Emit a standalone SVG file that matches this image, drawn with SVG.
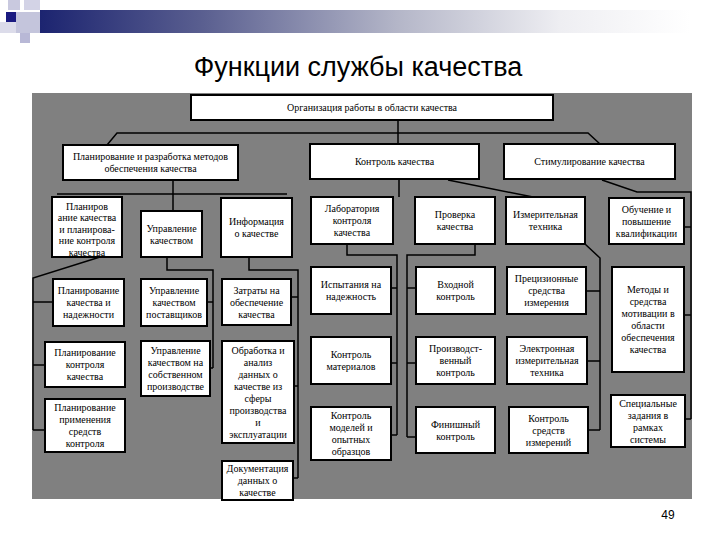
<svg xmlns="http://www.w3.org/2000/svg" width="720" height="540" viewBox="0 0 720 540">
<defs>
<linearGradient id="bar" x1="0" y1="0" x2="1" y2="0">
<stop offset="0" stop-color="#1c2470"/>
<stop offset="0.25" stop-color="#5a5f90"/>
<stop offset="0.55" stop-color="#b4b6c8"/>
<stop offset="0.8" stop-color="#eeeef2"/>
<stop offset="1" stop-color="#ffffff"/>
</linearGradient>
<style>
.box{fill:#ffffff;stroke:#000000;stroke-width:2}
.t{font-family:"Liberation Serif","Times New Roman",serif;font-size:10px;fill:#000000;text-anchor:middle}
.c{fill:none;stroke:#000000;stroke-width:1.5}
</style>
</defs>
<rect x="0" y="0" width="720" height="540" fill="#ffffff"/>
<g id="decor">
<rect x="40" y="10" width="650" height="23" fill="url(#bar)"/>
<rect x="8" y="0" width="12" height="10" fill="#c9c9df"/>
<rect x="24" y="0" width="16" height="10" fill="#d3d3e6"/>
<rect x="16" y="12" width="24" height="21" fill="#c4c5dc"/>
<rect x="6" y="12" width="10" height="10" fill="#1a1a80"/>
<rect x="0" y="22" width="16" height="11" fill="#dcdcea"/>
<rect x="20" y="33" width="10" height="10" fill="#b8b8d6"/>
</g>
<text x="358" y="76" font-family="Liberation Sans, Arial, sans-serif" font-size="27" text-anchor="middle" fill="#000000">Функции службы качества</text>
<rect x="32" y="93" width="660" height="406" fill="#808080"/>
<g id="connectors">
<path class="c" d="M398 120V144"/>
<path class="c" d="M107 145L117 133H588L600 144"/>
<path class="c" d="M173 180V211"/>
<path class="c" d="M57 194H287"/>
<path class="c" stroke-width="2.5" d="M399 179V197"/>
<path class="c" d="M448 180L533 197"/>
<path class="c" d="M602 180L637 192H691V419M684 227H691M684 315H691M685 419H691"/>
<path class="c" d="M100 257L33 278V430M33 302H53M33 365H45M33 430H45"/>
<path class="c" d="M167 257V270H213V368M207 302H213M210 368H213"/>
<path class="c" d="M249 257V270H298V478M291 297H298M294 386H298M293 478H298"/>
<path class="c" d="M347 244V255H397V435M391 288H397M391 363H397M391 435H397"/>
<path class="c" d="M475 244V255H407V437M407 288H416M407 363H416M407 437H416"/>
<path class="c" d="M585 244L600 258V430M586 291H600M587 361H600M588 430H600"/>
</g>
<g id="n-top"><rect class="box" x="191" y="95" width="362" height="25"/><text class="t" x="372" y="111">Организация работы в области качества</text></g>
<g id="n-plan"><rect class="box" x="63" y="145" width="175" height="35"/><text class="t" x="150.5" y="160"><tspan x="150.5">Планирование и разработка методов</tspan><tspan x="150.5" dy="12">обеспечения качества</tspan></text></g>
<g id="n-control"><rect class="box" x="310" y="144" width="169" height="35"/><text class="t" x="394.5" y="165">Контроль качества</text></g>
<g id="n-stim"><rect class="box" x="504" y="144" width="171" height="35"/><text class="t" x="589.5" y="165">Стимулирование качества</text></g>
<g id="n-a"><rect class="box" x="52" y="197" width="70" height="60"/><text class="t" x="87" y="209.5"><tspan x="87">Планиров</tspan><tspan x="87" dy="11.5">ание качества</tspan><tspan x="87" dy="11.5">и планирова-</tspan><tspan x="87" dy="11.5">ние контроля</tspan><tspan x="87" dy="11.5">качества</tspan></text></g>
<g id="n-b"><rect class="box" x="141" y="211" width="61" height="46"/><text class="t" x="171.5" y="231.5"><tspan x="171.5">Управление</tspan><tspan x="171.5" dy="12">качеством</tspan></text></g>
<g id="n-info"><rect class="box" x="221" y="198" width="71" height="59"/><text class="t" x="256.5" y="225"><tspan x="256.5">Информация</tspan><tspan x="256.5" dy="12">о качестве</tspan></text></g>
<g id="n-lab"><rect class="box" x="311" y="197" width="82" height="47"/><text class="t" x="352" y="212"><tspan x="352">Лаборатория</tspan><tspan x="352" dy="12">контроля</tspan><tspan x="352" dy="12">качества</tspan></text></g>
<g id="n-check"><rect class="box" x="415" y="197" width="80" height="47"/><text class="t" x="455" y="218"><tspan x="455">Проверка</tspan><tspan x="455" dy="12">качества</tspan></text></g>
<g id="n-meas"><rect class="box" x="506" y="197" width="79" height="47"/><text class="t" x="545.5" y="218"><tspan x="545.5">Измерительная</tspan><tspan x="545.5" dy="12">техника</tspan></text></g>
<g id="n-train"><rect class="box" x="609" y="198" width="75" height="46"/><text class="t" x="646.5" y="212.5"><tspan x="646.5">Обучение и</tspan><tspan x="646.5" dy="12">повышение</tspan><tspan x="646.5" dy="12">квалификации</tspan></text></g>
<g id="n-h1"><rect class="box" x="53" y="279" width="71" height="47"/><text class="t" x="88.5" y="294"><tspan x="88.5">Планирование</tspan><tspan x="88.5" dy="12">качества и</tspan><tspan x="88.5" dy="12">надежности</tspan></text></g>
<g id="n-h2"><rect class="box" x="45" y="342" width="80" height="45"/><text class="t" x="85" y="356"><tspan x="85">Планирование</tspan><tspan x="85" dy="12">контроля</tspan><tspan x="85" dy="12">качества</tspan></text></g>
<g id="n-h3"><rect class="box" x="45" y="399" width="80" height="53"/><text class="t" x="85" y="411"><tspan x="85">Планирование</tspan><tspan x="85" dy="12">применения</tspan><tspan x="85" dy="12">средств</tspan><tspan x="85" dy="12">контроля</tspan></text></g>
<g id="n-i1"><rect class="box" x="141" y="279" width="66" height="47"/><text class="t" x="174" y="294"><tspan x="174">Управление</tspan><tspan x="174" dy="12">качеством</tspan><tspan x="174" dy="12">поставщиков</tspan></text></g>
<g id="n-i2"><rect class="box" x="141" y="341" width="69" height="55"/><text class="t" x="175.5" y="354"><tspan x="175.5">Управление</tspan><tspan x="175.5" dy="12">качеством на</tspan><tspan x="175.5" dy="12">собственном</tspan><tspan x="175.5" dy="12">производстве</tspan></text></g>
<g id="n-j1"><rect class="box" x="222" y="279" width="69" height="46"/><text class="t" x="256.5" y="293.5"><tspan x="256.5">Затраты на</tspan><tspan x="256.5" dy="12">обеспечение</tspan><tspan x="256.5" dy="12">качества</tspan></text></g>
<g id="n-j2"><rect class="box" x="222" y="341" width="72" height="102"/><text class="t" x="258" y="353.5"><tspan x="258">Обработка и</tspan><tspan x="258" dy="12">анализ</tspan><tspan x="258" dy="12">данных о</tspan><tspan x="258" dy="12">качестве из</tspan><tspan x="258" dy="12">сферы</tspan><tspan x="258" dy="12">производства</tspan><tspan x="258" dy="12">и</tspan><tspan x="258" dy="12">эксплуатации</tspan></text></g>
<g id="n-j3"><rect class="box" x="222" y="461" width="71" height="39"/><text class="t" x="257.5" y="472"><tspan x="257.5">Документация</tspan><tspan x="257.5" dy="12">данных о</tspan><tspan x="257.5" dy="12">качестве</tspan></text></g>
<g id="n-k1"><rect class="box" x="311" y="267" width="80" height="47"/><text class="t" x="351" y="288"><tspan x="351">Испытания на</tspan><tspan x="351" dy="12">надежность</tspan></text></g>
<g id="n-k2"><rect class="box" x="311" y="337" width="80" height="47"/><text class="t" x="351" y="358"><tspan x="351">Контроль</tspan><tspan x="351" dy="12">материалов</tspan></text></g>
<g id="n-k3"><rect class="box" x="311" y="407" width="80" height="53"/><text class="t" x="351" y="419"><tspan x="351">Контроль</tspan><tspan x="351" dy="12">моделей и</tspan><tspan x="351" dy="12">опытных</tspan><tspan x="351" dy="12">образцов</tspan></text></g>
<g id="n-l1"><rect class="box" x="416" y="267" width="79" height="47"/><text class="t" x="455.5" y="288"><tspan x="455.5">Входной</tspan><tspan x="455.5" dy="12">контроль</tspan></text></g>
<g id="n-l2"><rect class="box" x="416" y="337" width="79" height="47"/><text class="t" x="455.5" y="352"><tspan x="455.5">Производст-</tspan><tspan x="455.5" dy="12">венный</tspan><tspan x="455.5" dy="12">контроль</tspan></text></g>
<g id="n-l3"><rect class="box" x="416" y="407" width="79" height="46"/><text class="t" x="455.5" y="427.5"><tspan x="455.5">Финишный</tspan><tspan x="455.5" dy="12">контроль</tspan></text></g>
<g id="n-m1"><rect class="box" x="507" y="267" width="79" height="47"/><text class="t" x="546.5" y="282"><tspan x="546.5">Прецизионные</tspan><tspan x="546.5" dy="12">средства</tspan><tspan x="546.5" dy="12">измерения</tspan></text></g>
<g id="n-m2"><rect class="box" x="507" y="337" width="80" height="47"/><text class="t" x="547" y="352"><tspan x="547">Электронная</tspan><tspan x="547" dy="12">измерительная</tspan><tspan x="547" dy="12">техника</tspan></text></g>
<g id="n-m3"><rect class="box" x="509" y="407" width="79" height="46"/><text class="t" x="548.5" y="421.5"><tspan x="548.5">Контроль</tspan><tspan x="548.5" dy="12">средств</tspan><tspan x="548.5" dy="12">измерений</tspan></text></g>
<g id="n-n1"><rect class="box" x="612" y="267" width="72" height="105"/><text class="t" x="648" y="293"><tspan x="648">Методы и</tspan><tspan x="648" dy="12">средства</tspan><tspan x="648" dy="12">мотивации в</tspan><tspan x="648" dy="12">области</tspan><tspan x="648" dy="12">обеспечения</tspan><tspan x="648" dy="12">качества</tspan></text></g>
<g id="n-n2"><rect class="box" x="611" y="395" width="74" height="52"/><text class="t" x="648" y="406.5"><tspan x="648">Специальные</tspan><tspan x="648" dy="12">задания в</tspan><tspan x="648" dy="12">рамках</tspan><tspan x="648" dy="12">системы</tspan></text></g>
<text x="668" y="519" font-family="Liberation Sans, Arial, sans-serif" font-size="12" text-anchor="middle" fill="#000000">49</text>
</svg>
